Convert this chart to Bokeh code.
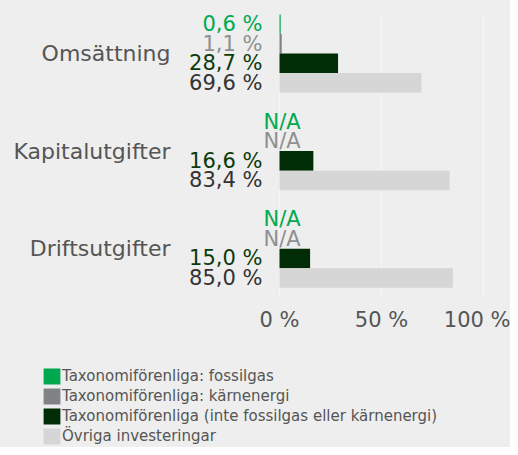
import math
from bokeh.plotting import figure
from bokeh.layouts import column
from bokeh.models import ColumnDataSource, Range1d, FixedTicker, Legend, LegendItem
from bokeh.core.properties import value
from bokeh.embed import file_html
from bokeh.resources import INLINE

categories = ["Omsättning", "Kapitalutgifter", "Driftsutgifter"]
series_names = [
    "Taxonomiförenliga: fossilgas",
    "Taxonomiförenliga: kärnenergi",
    "Taxonomiförenliga (inte fossilgas eller kärnenergi)",
    "Övriga investeringar",
]
fossilgas = [0.6, None, None]
karnenergi = [1.1, None, None]
taxonomi_ovrigt = [28.7, 16.6, 15.0]
ovriga = [69.6, 83.4, 85.0]
tick_values = [0, 50, 100]
tick_labels = ["0 %", "50 %", "100 %"]

series_values = [fossilgas, karnenergi, taxonomi_ovrigt, ovriga]
bar_colors = ["#00a94f", "#808285", "#002d05", "#d6d6d6"]
label_colors = ["#00a94f", "#8e9092", "#0b3b0b", "#333333"]

BG = "#edeeed"
FONT = "DejaVu Sans"
BAR_H = 0.2

p = figure(frame_width=510, frame_height=284, output_backend="svg", toolbar_location=None,
           x_range=Range1d(-136.76, 113.24), y_range=Range1d(2.5, -0.41),
           y_axis_location=None, min_border_left=0, min_border_right=0,
           min_border_top=13, min_border_bottom=50)
p.background_fill_color = BG
p.border_fill_color = BG
p.outline_line_color = BG
p.outline_line_width = 1

n = len(series_values)
for j, vals in enumerate(series_values):
    ys = [i + (j - (n - 1) / 2) * BAR_H for i in range(len(categories))]
    rights = [float("nan") if v is None else v for v in vals]
    labels = ["N/A" if v is None else (f"{v:.1f}".replace(".", ",") + " %") for v in vals]
    aligns = ["left" if v is None else "right" for v in vals]
    xoffs = [-16 if v is None else -17 for v in vals]
    src = ColumnDataSource(dict(y=ys, right=rights, label=labels, align=aligns, xoff=xoffs))
    p.hbar(y="y", left=0, right="right", height=BAR_H, source=src,
           fill_color=bar_colors[j], line_color=None)
    p.text(x=0, y="y", text="label", source=src, text_align="align", x_offset="xoff",
           text_baseline="middle", text_color=label_colors[j],
           text_font=value(FONT), text_font_size="21px")

cat_src = ColumnDataSource(dict(y=list(range(len(categories))), name=categories))
p.text(x=0, y="y", text="name", source=cat_src, text_align="right", x_offset=-109,
       text_baseline="middle", text_color="#555555",
       text_font=value(FONT), text_font_size="22px")

p.xaxis.ticker = FixedTicker(ticks=tick_values)
p.xaxis.major_label_overrides = dict(zip(tick_values, tick_labels))
p.xaxis.axis_line_color = None
p.xaxis.major_tick_line_color = None
p.xaxis.minor_tick_line_color = None
p.xaxis.major_label_text_font = FONT
p.xaxis.major_label_text_font_size = "21px"
p.xaxis.major_label_text_color = "#555555"
p.xaxis.major_label_standoff = 4

p.xgrid.ticker = FixedTicker(ticks=tick_values)
p.xgrid.grid_line_color = "#f5f6f5"
p.ygrid.grid_line_color = None

# legend figure (holds only the legend; its renderers carry a single NaN row so nothing is drawn)
lg = figure(width=510, height=100, output_backend="svg", toolbar_location=None,
            x_range=Range1d(0, 1), y_range=Range1d(0, 1),
            x_axis_location=None, y_axis_location=None,
            min_border=0, min_border_left=0, min_border_right=0,
            min_border_top=0, min_border_bottom=0)
lg.background_fill_color = BG
lg.border_fill_color = BG
lg.outline_line_color = BG
lg.xgrid.grid_line_color = None
lg.ygrid.grid_line_color = None

legend_renderers = []
for j in range(n):
    placeholder = ColumnDataSource(dict(y=[float("nan")], right=[float("nan")]))
    legend_renderers.append(lg.hbar(y="y", left=0, right="right", height=BAR_H, source=placeholder,
                                    fill_color=bar_colors[j], line_color=None))

legend = Legend(items=[LegendItem(label=s, renderers=[r], index=0)
                       for s, r in zip(series_names, legend_renderers)],
                glyph_width=21, glyph_height=20, label_height=20, spacing=-1,
                label_standoff=0, padding=0, margin=0, location=(41, 1),
                border_line_alpha=0, background_fill_alpha=0,
                label_text_font=FONT, label_text_font_size="15px",
                label_text_color="#555555")
lg.add_layout(legend, "center")

layout = column(p, lg, spacing=0, styles={"background-color": BG})
open("out.html", "w").write(file_html(layout, INLINE))
